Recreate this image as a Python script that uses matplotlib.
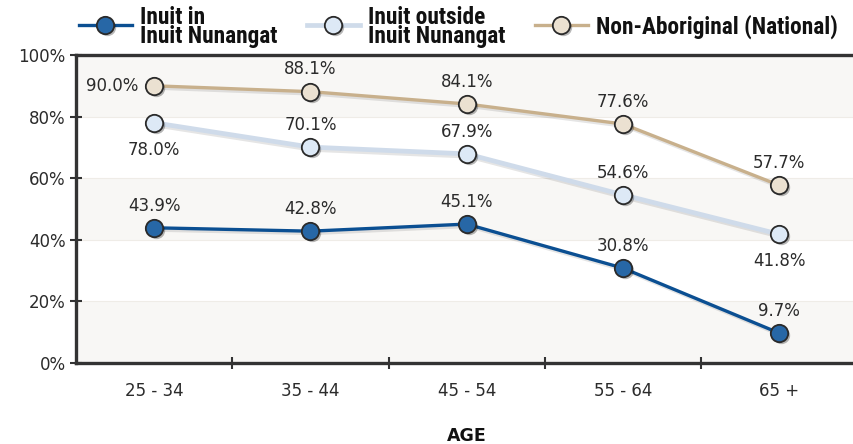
import matplotlib
matplotlib.use("Agg")
import matplotlib.pyplot as plt
import matplotlib.transforms as mtransforms
from matplotlib.lines import Line2D
from matplotlib import font_manager

# ---- data -------------------------------------------------------------
age_groups = ["25 - 34", "35 - 44", "45 - 54", "55 - 64", "65 +"]
inuit_in = [43.9, 42.8, 45.1, 30.8, 9.7]
inuit_outside = [78.0, 70.1, 67.9, 54.6, 41.8]
non_aboriginal = [90.0, 88.1, 84.1, 77.6, 57.7]
series_labels = ["Inuit in\nInuit Nunangat", "Inuit outside\nInuit Nunangat",
                 "Non-Aboriginal (National)"]
y_ticks = [0, 20, 40, 60, 80, 100]

# label placement for each point: 'a' above, 'b' below, 'l' left
inuit_in_pos = ["a", "a", "a", "a", "a"]
inuit_outside_pos = ["b", "a", "a", "a", "b"]
non_aboriginal_pos = ["l", "a", "a", "a", "a"]

# ---- fonts ------------------------------------------------------------
names = {f.name for f in font_manager.fontManager.ttflist}
legend_font, legend_size, legend_stretch = "Roboto", 13.2, "normal"
for cand in ["Liberation Sans Narrow", "DejaVu Sans Condensed", "Roboto Condensed",
             "Open Sans Condensed", "Noto Sans Condensed"]:
    if cand in names:
        legend_font, legend_size = cand, 16.8
        break
else:
    condensed = [f for f in font_manager.fontManager.ttflist
                 if f.name in ("DejaVu Sans", "Noto Sans", "Open Sans")
                 and str(f.stretch) in ("condensed", "semi-condensed", "75", "87.5")
                 and f.weight in ("bold", 700)]
    if condensed:
        legend_font, legend_size, legend_stretch = condensed[0].name, 16.8, condensed[0].stretch

plt.rcParams["font.family"] = ["DejaVu Sans"]

text_col = "#2b2b2b"
axis_col = "#333333"
styles = [
    dict(line="#0b4f92", face="#2767a6", lw=2.4),
    dict(line="#cfdbea", face="#dde9f6", lw=3.4),
    dict(line="#c8b08c", face="#ebe1d1", lw=2.4),
]

fig = plt.figure(figsize=(8.54, 4.44), dpi=100)
ax = fig.add_axes([76 / 854, 81 / 444, 1.0 - 76 / 854 + 0.004, 308 / 444])

x = list(range(len(age_groups)))
ax.set_xlim(-0.5, len(age_groups) - 0.5)
ax.set_ylim(0, 100)

# alternating horizontal bands
for i in range(len(y_ticks) - 1):
    if i % 2 == 0:
        ax.axhspan(y_ticks[i], y_ticks[i + 1], color="#f8f7f5", zorder=0, lw=0)
for t in y_ticks[1:-1]:
    ax.axhline(t, color="#efece7", lw=0.8, zorder=0.5)

shadow = mtransforms.offset_copy(ax.transData, fig=fig, x=2.0, y=-2.0, units="dots")

all_series = [inuit_in, inuit_outside, non_aboriginal]
all_pos = [inuit_in_pos, inuit_outside_pos, non_aboriginal_pos]
for vals, st, pos in zip(all_series, styles, all_pos):
    ax.plot(x, vals, color="#000000", alpha=0.10, lw=st["lw"] + 0.5,
            transform=shadow, zorder=2, solid_capstyle="round")
    ax.plot(x, vals, color=st["line"], lw=st["lw"], zorder=3)
    ax.plot(x, vals, ls="none", marker="o", ms=12.5, mfc="#000000", mec="none",
            alpha=0.28, transform=shadow, zorder=4)
    ax.plot(x, vals, ls="none", marker="o", ms=12.5, mfc=st["face"],
            mec="#2a2a2a", mew=1.3, zorder=5)
    for xi, v, p in zip(x, vals, pos):
        if p == "a":
            off, ha, va = (0, 16), "center", "center"
        elif p == "b":
            off, ha, va = (0, -19.5), "center", "center"
        else:
            off, ha, va = (-11, 0), "right", "center"
        ax.annotate(f"{v:.1f}%", (xi, v), xytext=off, textcoords="offset points",
                    ha=ha, va=va, fontsize=12, color=text_col, zorder=6)

# axes frame
for side in ["left", "bottom", "top"]:
    ax.spines[side].set_color(axis_col)
    ax.spines[side].set_linewidth(2.4)
ax.spines["right"].set_visible(False)

ax.set_yticks(y_ticks)
ax.set_yticklabels([f"{t}%" for t in y_ticks])
ax.set_xticks(x)
ax.set_xticklabels(age_groups)
ax.set_xticks([i + 0.5 for i in x[:-1]], minor=True)
ax.tick_params(axis="y", direction="inout", length=9, width=1.5, color=axis_col,
               labelsize=12, labelcolor=text_col, pad=3)
ax.tick_params(axis="x", which="major", length=0, labelsize=12, labelcolor=text_col, pad=14)
ax.tick_params(axis="x", which="minor", direction="inout", length=9, width=1.5,
               color=axis_col)
ax.set_xlabel("AGE", fontsize=12.5, fontweight="bold", color="#111111", labelpad=19)

# legend row
def px(xp, yp):
    return xp / 854, 1 - yp / 444

legend_x = [79, 307, 535]
for x0, st, lab in zip(legend_x, styles, series_labels):
    xa, ya = px(x0, 25)
    xb, _ = px(x0 + 53, 25)
    xm, _ = px(x0 + 26, 25)
    fig.add_artist(Line2D([xa, xb], [ya, ya], color=st["line"], lw=st["lw"],
                          transform=fig.transFigure))
    fig.add_artist(Line2D([xm + 2 / 854], [ya - 2 / 444], ls="none", marker="o",
                          ms=12.5, mfc="#000000", mec="none", alpha=0.28,
                          transform=fig.transFigure))
    fig.add_artist(Line2D([xm], [ya], ls="none", marker="o", ms=12.5,
                          mfc=st["face"], mec="#2a2a2a", mew=1.3,
                          transform=fig.transFigure))
    tx, ty = px(x0 + 61, 27)
    fig.text(tx, ty, lab, ha="left", va="center", fontsize=legend_size,
             fontweight="bold", family=legend_font, fontstretch=legend_stretch,
             color="#111111", linespacing=0.8)

fig.savefig("out.png", dpi=100)
